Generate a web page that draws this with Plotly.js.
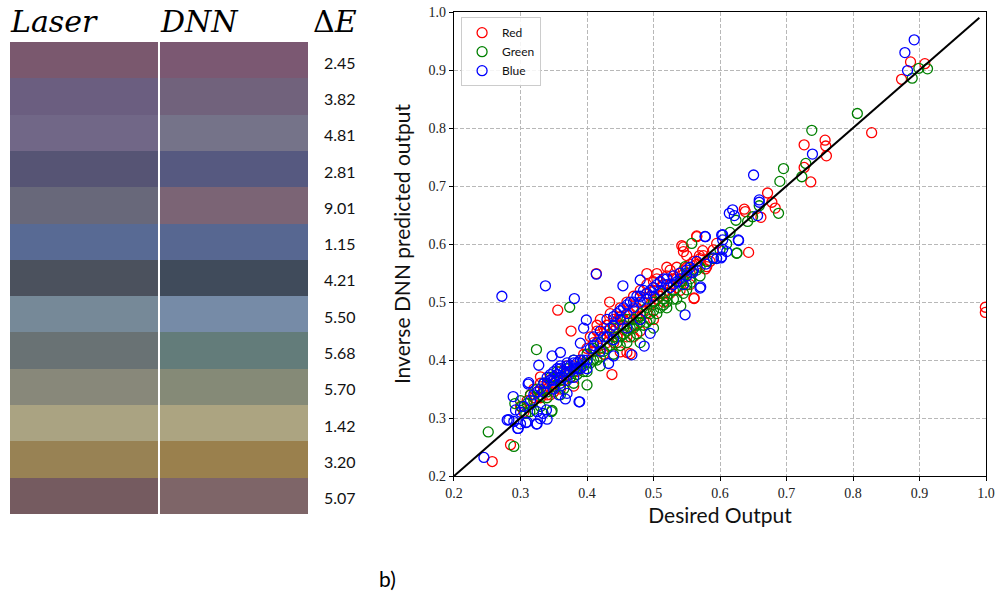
<!DOCTYPE html>
<html><head><meta charset="utf-8">
<script src="https://cdn.plot.ly/plotly-3.0.1.min.js"></script>
<style>html,body{margin:0;padding:0;background:#fff}#chart{width:998px;height:592px}</style>
</head><body><div id="chart"></div>
<script>
// ---- Left panel: colour swatches ----
const deltaE = ['2.45','3.82','4.81','2.81','9.01','1.15','4.21','5.50','5.68','5.70','1.42','3.20','5.07'];
const laserColors = ['#7a586e','#6b5e80','#716787','#565474','#68687a','#586a94','#4b515d','#768998','#697274','#88887a','#aaa382','#988254','#755b60'];
const dnnColors   = ['#7b5872','#71627c','#757389','#565980','#7b6475','#576791','#404b5b','#768ba7','#637c7a','#858a77','#aca481','#9a804d','#7e6568'];

// ---- Right panel: scatter (desired, predicted) ----
const redPts = [
[0.2575,0.225],[0.285,0.254],[0.356,0.486],[0.376,0.45],[0.4375,0.375],[0.434,0.50],[0.414,0.549],[0.561,0.506],
[0.5425,0.597],[0.565,0.614],[0.545,0.587],[0.525,0.555],[0.49,0.549],[0.505,0.549],[0.58,0.561],[0.595,0.601],
[0.465,0.411],[0.45,0.414],[0.46,0.413],[0.345,0.366],[0.33,0.371],
[0.8865,0.914],[0.908,0.911],[0.873,0.884],[0.828,0.792],[0.7265,0.771],[0.758,0.779],[0.759,0.769],[0.76,0.752],
[0.7265,0.732],[0.7365,0.707],[0.6715,0.688],[0.6365,0.660],[0.638,0.656],[0.6615,0.646],[0.678,0.672],[0.683,0.662],
[0.565,0.6126],[0.643,0.5856],[0.574,0.5885],[0.569,0.58],[0.578,0.557],[0.561,0.507],[0.999,0.491],[0.999,0.482],
[0.40,0.42],[0.405,0.44],[0.41,0.43],[0.415,0.45],[0.42,0.47],[0.42,0.44],[0.425,0.41],[0.43,0.46],[0.43,0.43],
[0.435,0.48],[0.44,0.45],[0.44,0.47],[0.445,0.44],[0.45,0.49],[0.45,0.46],[0.455,0.47],[0.46,0.50],[0.46,0.45],
[0.465,0.48],[0.47,0.46],[0.47,0.51],[0.475,0.49],[0.48,0.47],[0.48,0.52],[0.485,0.50],[0.49,0.48],[0.49,0.53],
[0.495,0.51],[0.50,0.50],[0.50,0.52],[0.505,0.54],[0.51,0.51],[0.515,0.53],[0.52,0.52],[0.52,0.545],[0.525,0.53],
[0.53,0.54],[0.535,0.525],[0.54,0.55],[0.545,0.54],[0.55,0.56],[0.555,0.55],[0.56,0.57],[0.565,0.565],[0.57,0.575],
[0.575,0.58],[0.585,0.57],[0.59,0.59],
[0.31,0.33],[0.315,0.34],[0.32,0.35],[0.325,0.345],[0.33,0.36],[0.335,0.35],[0.34,0.355],[0.345,0.34],[0.35,0.36],
[0.355,0.37],[0.36,0.38],[0.365,0.365],[0.37,0.39],[0.375,0.37],[0.38,0.39],[0.385,0.38],[0.39,0.40],[0.395,0.41],
[0.30,0.32],[0.305,0.31],[0.38,0.355],[0.36,0.35],[0.33,0.335],[0.42,0.42],[0.47,0.44],[0.48,0.45],[0.50,0.47],
[0.515,0.50],[0.54,0.52],[0.555,0.53],[0.44,0.43],[0.46,0.44],
[0.415,0.46],[0.425,0.455],[0.435,0.445],[0.445,0.465],[0.455,0.455],[0.465,0.47],[0.475,0.475],[0.485,0.485],
[0.495,0.495],[0.505,0.505],[0.515,0.515],[0.525,0.515],[0.535,0.54],[0.545,0.555],[0.555,0.565],[0.535,0.56],
[0.52,0.56],[0.545,0.595],[0.55,0.58],[0.49,0.515],[0.47,0.485],[0.45,0.475],[0.43,0.45],[0.41,0.415],[0.35,0.345],
[0.37,0.375],[0.39,0.385],[0.34,0.34],[0.32,0.335],[0.50,0.535]
];
const greenPts = [
[0.2515,0.276],[0.29,0.251],[0.324,0.418],[0.374,0.491],[0.3475,0.313],[0.40,0.357],[0.541,0.493],[0.55,0.521],
[0.5575,0.601],[0.624,0.641],[0.625,0.584],[0.5475,0.561],
[0.899,0.903],[0.912,0.902],[0.889,0.886],[0.8065,0.825],[0.738,0.796],[0.6955,0.730],[0.729,0.739],[0.723,0.716],
[0.69,0.708],[0.6415,0.639],[0.649,0.647],[0.659,0.666],[0.688,0.653],[0.6255,0.5845],[0.5565,0.534],
[0.2915,0.325],[0.3015,0.3195],[0.308,0.308],[0.314,0.311],[0.3465,0.311],
[0.30,0.33],[0.31,0.325],[0.315,0.34],[0.32,0.33],[0.325,0.35],[0.33,0.34],[0.335,0.36],[0.34,0.345],[0.345,0.37],
[0.35,0.355],[0.355,0.38],[0.36,0.365],[0.365,0.35],[0.37,0.385],[0.375,0.37],[0.38,0.40],[0.385,0.375],[0.39,0.39],
[0.395,0.38],[0.40,0.41],[0.405,0.395],[0.41,0.42],[0.415,0.40],[0.42,0.43],[0.425,0.415],[0.43,0.44],[0.435,0.425],
[0.44,0.455],[0.445,0.43],[0.45,0.44],[0.455,0.46],[0.46,0.43],[0.465,0.455],[0.47,0.47],[0.475,0.445],[0.48,0.48],
[0.485,0.46],[0.49,0.49],[0.495,0.47],[0.50,0.50],[0.505,0.48],[0.51,0.515],[0.515,0.495],[0.52,0.51],[0.53,0.52],
[0.535,0.505],[0.54,0.535],[0.545,0.515],[0.55,0.55],[0.555,0.54],[0.565,0.555],[0.57,0.545],[0.58,0.57],[0.59,0.575],
[0.60,0.59],[0.61,0.60],[0.615,0.62],[0.42,0.39],[0.44,0.41],[0.46,0.47],[0.48,0.43],[0.50,0.455],[0.52,0.49],
[0.33,0.32],[0.36,0.34],[0.38,0.36],[0.40,0.38],
[0.41,0.40],[0.43,0.42],[0.45,0.425],[0.47,0.455],[0.49,0.465],[0.51,0.49],[0.53,0.505],[0.55,0.53],[0.57,0.56],
[0.44,0.44],[0.46,0.45],[0.48,0.465],[0.50,0.485],[0.52,0.50],[0.42,0.405],[0.40,0.395],[0.38,0.38],[0.36,0.355],
[0.34,0.335],[0.32,0.315],[0.455,0.445],[0.475,0.46],[0.495,0.48],[0.515,0.505],[0.465,0.44]
];
const bluePts = [
[0.272,0.510],[0.3375,0.528],[0.381,0.506],[0.414,0.548],[0.245,0.232],[0.289,0.337],[0.2825,0.297],[0.29,0.294],
[0.2965,0.282],[0.325,0.290],[0.31,0.293],[0.33,0.299],[0.34,0.298],[0.2925,0.314],[0.325,0.311],[0.339,0.314],
[0.3125,0.361],[0.3275,0.391],[0.36,0.413],[0.3475,0.407],[0.389,0.328],[0.3675,0.333],[0.3575,0.34],[0.37,0.3425],
[0.39,0.429],[0.399,0.469],[0.395,0.455],[0.454,0.528],[0.48,0.538],[0.4675,0.409],[0.486,0.424],[0.4325,0.394],
[0.44,0.407],[0.495,0.446],[0.5475,0.478],[0.571,0.526],[0.5775,0.613],[0.604,0.616],[0.61,0.587],[0.6025,0.578],
[0.595,0.575],[0.6275,0.607],
[0.892,0.952],[0.878,0.930],[0.882,0.899],[0.739,0.755],[0.6505,0.719],[0.659,0.676],[0.619,0.659],[0.614,0.653],
[0.6215,0.649],[0.6565,0.649],[0.659,0.672],[0.578,0.6126],[0.6025,0.6155],[0.604,0.607],[0.628,0.606],[0.604,0.591],
[0.6015,0.576],[0.59,0.576],[0.579,0.5655],[0.559,0.551],[0.57,0.524],
[0.28,0.2966],[0.308,0.292],[0.296,0.282],[0.324,0.2897],[0.334,0.308],[0.388,0.328],[0.3115,0.3586],
[0.33,0.35],[0.335,0.36],[0.34,0.37],[0.345,0.365],[0.35,0.38],[0.355,0.375],[0.36,0.385],[0.365,0.37],[0.37,0.39],
[0.375,0.38],[0.38,0.395],[0.385,0.385],[0.39,0.40],[0.395,0.39],[0.40,0.40],[0.405,0.42],[0.41,0.44],[0.415,0.43],
[0.42,0.45],[0.425,0.44],[0.43,0.47],[0.435,0.455],[0.44,0.46],[0.445,0.48],[0.45,0.47],[0.455,0.49],[0.46,0.48],
[0.465,0.50],[0.47,0.49],[0.475,0.51],[0.48,0.50],[0.485,0.52],[0.49,0.505],[0.495,0.52],[0.50,0.51],[0.505,0.53],
[0.51,0.52],[0.515,0.54],[0.52,0.53],[0.525,0.525],[0.53,0.545],[0.535,0.535],[0.54,0.55],[0.545,0.53],[0.55,0.545],
[0.555,0.56],[0.56,0.555],[0.565,0.57],[0.32,0.34],[0.315,0.33],[0.35,0.35],[0.36,0.36],[0.37,0.365],[0.38,0.37],
[0.40,0.385],[0.42,0.415],[0.44,0.435],[0.46,0.455],[0.48,0.47],[0.30,0.31],[0.305,0.32],[0.30,0.29],
[0.34,0.36],[0.345,0.375],[0.35,0.365],[0.355,0.385],[0.36,0.37],[0.365,0.38],[0.37,0.38],[0.375,0.39],[0.38,0.385],
[0.385,0.395],[0.39,0.385],[0.395,0.40],[0.35,0.37],[0.36,0.39],[0.37,0.395],[0.38,0.40],[0.325,0.345],[0.335,0.345],
[0.44,0.475],[0.45,0.485],[0.46,0.495],[0.47,0.50],[0.48,0.51],[0.49,0.515],[0.50,0.525],[0.51,0.535],[0.52,0.54],
[0.53,0.53],[0.54,0.54],[0.55,0.555],[0.43,0.44],[0.41,0.425]
];
const idealX = [0.2, 0.99];
const idealY = [0.2, 0.99];

const rows = deltaE.map((_, i) => i);
const ones = deltaE.map(() => 1);

function scatterTrace(pts, name, color) {
  return {
    type: 'scatter', mode: 'markers', name: name,
    x: pts.map(p => p[0]), y: pts.map(p => p[1]),
    xaxis: 'x', yaxis: 'y',
    marker: {symbol: 'circle-open', size: 10, color: color, line: {width: 1.3, color: color}},
    hoverinfo: 'x+y'
  };
}

const traces = [
  {type: 'bar', orientation: 'h', y: rows, x: ones, base: 0, width: 1,
   marker: {color: laserColors, line: {width: 0}}, xaxis: 'x2', yaxis: 'y2', showlegend: false, hoverinfo: 'skip'},
  {type: 'bar', orientation: 'h', y: rows, x: ones, base: 1, width: 1,
   marker: {color: dnnColors, line: {width: 0}}, xaxis: 'x2', yaxis: 'y2', showlegend: false, hoverinfo: 'skip'},
  scatterTrace(redPts, 'Red', '#ff0000'),
  scatterTrace(greenPts, 'Green', '#008000'),
  scatterTrace(bluePts, 'Blue', '#0000ff'),
  {type: 'scatter', mode: 'lines', x: idealX, y: idealY, xaxis: 'x', yaxis: 'y',
   line: {color: '#000', width: 2}, showlegend: false, hoverinfo: 'skip'}
];

const axisCommon = {
  range: [0.2, 1.0], dtick: 0.1, tick0: 0.2, tickformat: '.1f',
  showgrid: true, gridcolor: '#b8b8b8', gridwidth: 1, griddash: '4px,2px',
  zeroline: false, showline: true, linecolor: '#000', linewidth: 1.3, mirror: true,
  ticks: 'outside', ticklen: 4, tickcolor: '#000', tickwidth: 1,
  tickfont: {family: 'Liberation Serif, serif', size: 14, color: '#222'}
};

const deltaAnnotations = deltaE.map((t, i) => ({
  text: t, xref: 'x2', yref: 'y2', x: 2.215, y: rows[i], xanchor: 'center', yanchor: 'middle', yshift: -2,
  showarrow: false, font: {family: 'Lato, sans-serif', size: 16, color: '#111'}
}));

const layout = {
  width: 998, height: 592,
  margin: {l: 0, r: 0, t: 0, b: 0},
  paper_bgcolor: '#fff', plot_bgcolor: '#fff',
  showlegend: true,
  barmode: 'overlay', bargap: 0,
  font: {family: 'Lato, sans-serif', color: '#111'},
  xaxis: Object.assign({}, axisCommon, {
    domain: [0.4549, 0.988], anchor: 'y',
    title: {text: 'Desired Output', font: {family: 'Lato, sans-serif', size: 21, color: '#111'}, standoff: 8}
  }),
  yaxis: Object.assign({}, axisCommon, {
    domain: [0.1959, 0.9797], anchor: 'x',
    title: {text: 'Inverse DNN predicted output', font: {family: 'Lato, sans-serif', size: 21, color: '#111'}, standoff: 12}
  }),
  xaxis2: {domain: [0.01002, 0.3707], range: [0, 2.416], visible: false, anchor: 'y2', fixedrange: true},
  yaxis2: {domain: [0.1318, 0.9291], range: [12.5, -0.5], visible: false, anchor: 'x2', fixedrange: true},
  legend: {
    x: 0.462, y: 0.971, xanchor: 'left', yanchor: 'top',
    bgcolor: 'rgba(255,255,255,0.85)', bordercolor: '#cccccc', borderwidth: 1,
    font: {family: 'Lato, sans-serif', size: 12, color: '#111'},
    tracegroupgap: 0
  },
  shapes: [
    {type: 'line', xref: 'x2', yref: 'y2', x0: 1, x1: 1, y0: -0.5, y1: 12.5, line: {color: '#ffffff', width: 2}}
  ],
  annotations: deltaAnnotations.concat([
    {text: '<i>Laser</i>', xref: 'paper', yref: 'paper', x: 8/998, y: 1 - 21/592, xanchor: 'left', yanchor: 'middle',
     showarrow: false, font: {family: 'DejaVu Serif, serif', size: 30, color: '#000'}},
    {text: '<i>DNN</i>', xref: 'paper', yref: 'paper', x: 158/998, y: 1 - 21/592, xanchor: 'left', yanchor: 'middle',
     showarrow: false, font: {family: 'DejaVu Serif, serif', size: 30, color: '#000'}},
    {text: 'Δ<i>E</i>', xref: 'paper', yref: 'paper', x: 311/998, y: 1 - 21/592, xanchor: 'left', yanchor: 'middle',
     showarrow: false, font: {family: 'DejaVu Serif, serif', size: 30, color: '#000'}},
    {text: 'b)', xref: 'paper', yref: 'paper', x: 387/998, y: 1 - 578/592, xanchor: 'center', yanchor: 'middle',
     showarrow: false, font: {family: 'Lato, sans-serif', size: 21, color: '#000'}}
  ])
};

Plotly.newPlot('chart', traces, layout, {displayModeBar: false, staticPlot: true});
</script>
</body></html>
